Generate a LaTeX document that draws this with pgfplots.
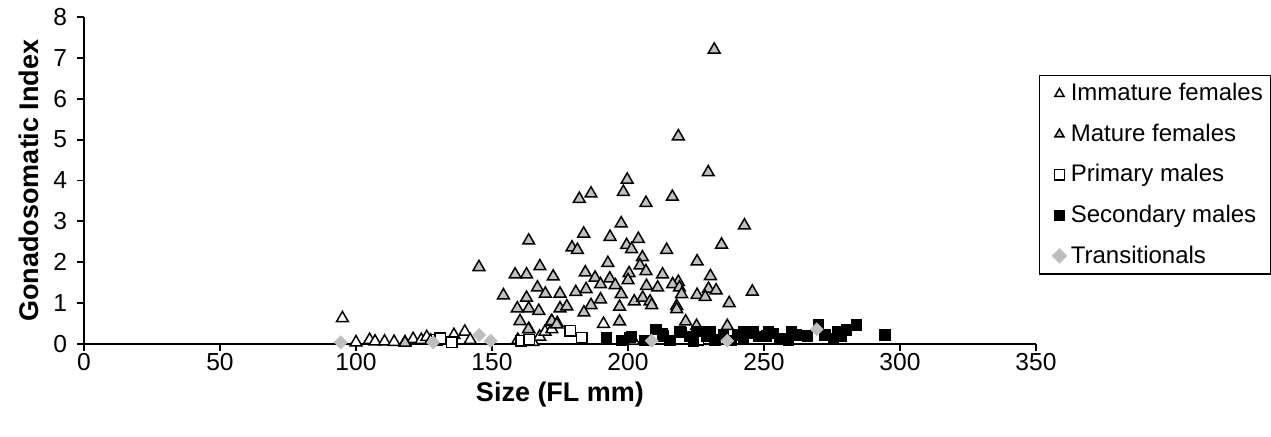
\documentclass[border=0pt]{standalone}
\usepackage{pgfplots}
\pgfplotsset{compat=1.18}
\usepackage{fontspec}
\setmainfont{Liberation Sans}
\definecolor{fillgray}{RGB}{192,192,192}
\definecolor{diagray}{RGB}{190,190,190}

\begin{document}
\begin{tikzpicture}
\path[use as bounding box] (-42bp,-46.5bp) rectangle (593.5bp,172bp);
\begin{axis}[
  at={(0,0)}, anchor=south west,
  scale only axis, width=476bp, height=163.5bp,
  xmin=0, xmax=350, ymin=0, ymax=8,
  xtick={0,50,...,350}, ytick={0,1,...,8},
  axis x line*=bottom, axis y line*=left,
  axis line style={line width=0.9bp, black},
  tick style={line width=0.9bp, black},
  tick align=outside, major tick length=3.5bp,
  /pgf/number format/assume math mode=true,
  ticklabel style={font=\fontsize{12.3bp}{14bp}\selectfont},
  xticklabel style={yshift=2.5bp},
  yticklabel style={xshift=-1.5bp},
  xlabel={\textbf{Size (FL mm)}},
  ylabel={\textbf{Gonadosomatic Index}},
  label style={font=\fontsize{13.5bp}{15bp}\selectfont},
  xlabel style={yshift=1bp},
  ylabel style={yshift=0.5bp},
  clip=false,
  legend style={at={(1.003,0.823)}, anchor=north west, draw=black,
    line width=0.6bp, font=\fontsize{12bp}{13.5bp}\selectfont,
    inner xsep=2bp, inner ysep=2bp, row sep=6.1bp,
    cells={anchor=west}},
  legend image code/.code={%
    \path[draw=none] (0bp,0bp) -- (11bp,0bp);
    \draw[#1, mark size=2.6bp, line width=0.55bp] plot coordinates {(8bp,0bp)};},
  legend cell align=left,
]
% immature females
\addplot[only marks, mark=triangle*, mark size=3.4bp,
  mark options={fill=white, draw=black, line width=0.75bp}] coordinates {
(95,0.63) (100,0.04) (105,0.1) (107,0.06) (110.5,0.06) (114,0.05) (118,0.04)
(121,0.12) (124,0.1) (126,0.17) (127.5,0.08) (136,0.22) (140,0.3) (142,0.1)
(159.5,0.1) (165,0.05) (167.5,0.18) (169.5,0.3) (172,0.36) (191,0.49) (202,0.08)
};
\addlegendentry{Immature females}
% mature females
\addplot[only marks, mark=triangle*, mark size=3.4bp,
  mark options={fill=fillgray, draw=black, line width=0.75bp}] coordinates {
(231.7,7.2) (218.5,5.08) (229.5,4.2) (199.7,4.02) (198.3,3.72) (182.1,3.55)
(186.4,3.68) (216.3,3.6) (206.6,3.45) (197.5,2.95) (242.8,2.9) (183.7,2.7)
(193.4,2.62) (163.5,2.53) (203.8,2.57) (179.4,2.36) (181.4,2.3) (199.5,2.42)
(201.3,2.32) (214.2,2.3) (234.4,2.43) (205.3,2.12) (204.4,1.92) (192.6,1.98)
(225.4,2.02) (167.6,1.9) (158.5,1.7) (162.7,1.7) (172.5,1.65) (184.3,1.75)
(187.9,1.62) (193.3,1.6) (200.4,1.73) (206.6,1.78) (212.7,1.7) (230.3,1.66)
(200,1.56) (218.5,1.52) (166.7,1.38) (169.6,1.23) (175,1.23) (180.8,1.27)
(184.6,1.34) (189.9,1.46) (195.3,1.44) (197.5,1.22) (206.8,1.42) (210.9,1.38)
(216.4,1.46) (218.9,1.38) (219.7,1.22) (229.6,1.35) (232.4,1.31) (245.7,1.28)
(154.2,1.19) (162.7,1.13) (189.9,1.09) (186.4,0.95) (202.3,1.04) (205.4,1.13)
(208.1,1.04) (208.7,0.95) (225.4,1.2) (228.4,1.15) (237.2,1.0) (159.3,0.87)
(163.5,0.87) (167.2,0.81) (175,0.87) (177.5,0.92) (183.8,0.77) (196.9,0.91)
(217.9,0.93) (217.9,0.85) (160.3,0.56) (171.7,0.54) (174,0.51) (196.9,0.55)
(221.2,0.55) (163.6,0.36) (145.2,1.88) (225.2,0.44) (236.5,0.44) (172,0.56)
(173.8,0.48) (163.4,0.36) (118,0.03)
};
\addlegendentry{Mature females}
% primary males
\addplot[only marks, mark=square*, mark size=2.6bp,
  mark options={fill=white, draw=black, line width=0.75bp}] coordinates {
(129.7,0.1) (131,0.14) (135.2,0.04) (160.7,0.08) (163.7,0.11) (178.7,0.32)
(183,0.16) (225.8,0.1)
};
\addlegendentry{Primary males}
% secondary males
\addplot[only marks, mark=square*, mark size=2.6bp,
  mark options={fill=black, draw=black, line width=0.5bp}] coordinates {
(192.1,0.16) (197.7,0.08) (200.7,0.16) (201.3,0.18) (210.3,0.36) (213,0.2)
(215.4,0.08) (219.7,0.28) (222.8,0.18) (226.5,0.3) (228.9,0.2) (232,0.1)
(235,0.22) (240.5,0.22) (242.4,0.11) (245.4,0.26) (247.9,0.18) (251,0.2)
(253.4,0.26) (255.9,0.14) (258.9,0.08) (262,0.22) (270,0.46) (272.4,0.22)
(275.5,0.14) (278.5,0.2) (280.4,0.34) (284,0.46) (294.5,0.22) (212.7,0.24)
(219.1,0.3) (225.2,0.3) (230.1,0.3) (242.4,0.3) (246,0.3) (251.6,0.3)
(206,0.08) (224,0.06) (238,0.08) (260,0.3) (266,0.2) (277,0.3)
};
\addlegendentry{Secondary males}
% transitionals
\addplot[only marks, mark=square*, mark size=2.3bp,
  mark options={rotate=45, fill=diagray, draw=diagray, line width=0.3bp}] coordinates {
(94.4,0.04) (128.4,0.04) (145.3,0.22) (149.5,0.08) (208.7,0.08) (236.5,0.08)
(269.4,0.36)
};
\addlegendentry{Transitionals}
\end{axis}
\end{tikzpicture}
\end{document}
